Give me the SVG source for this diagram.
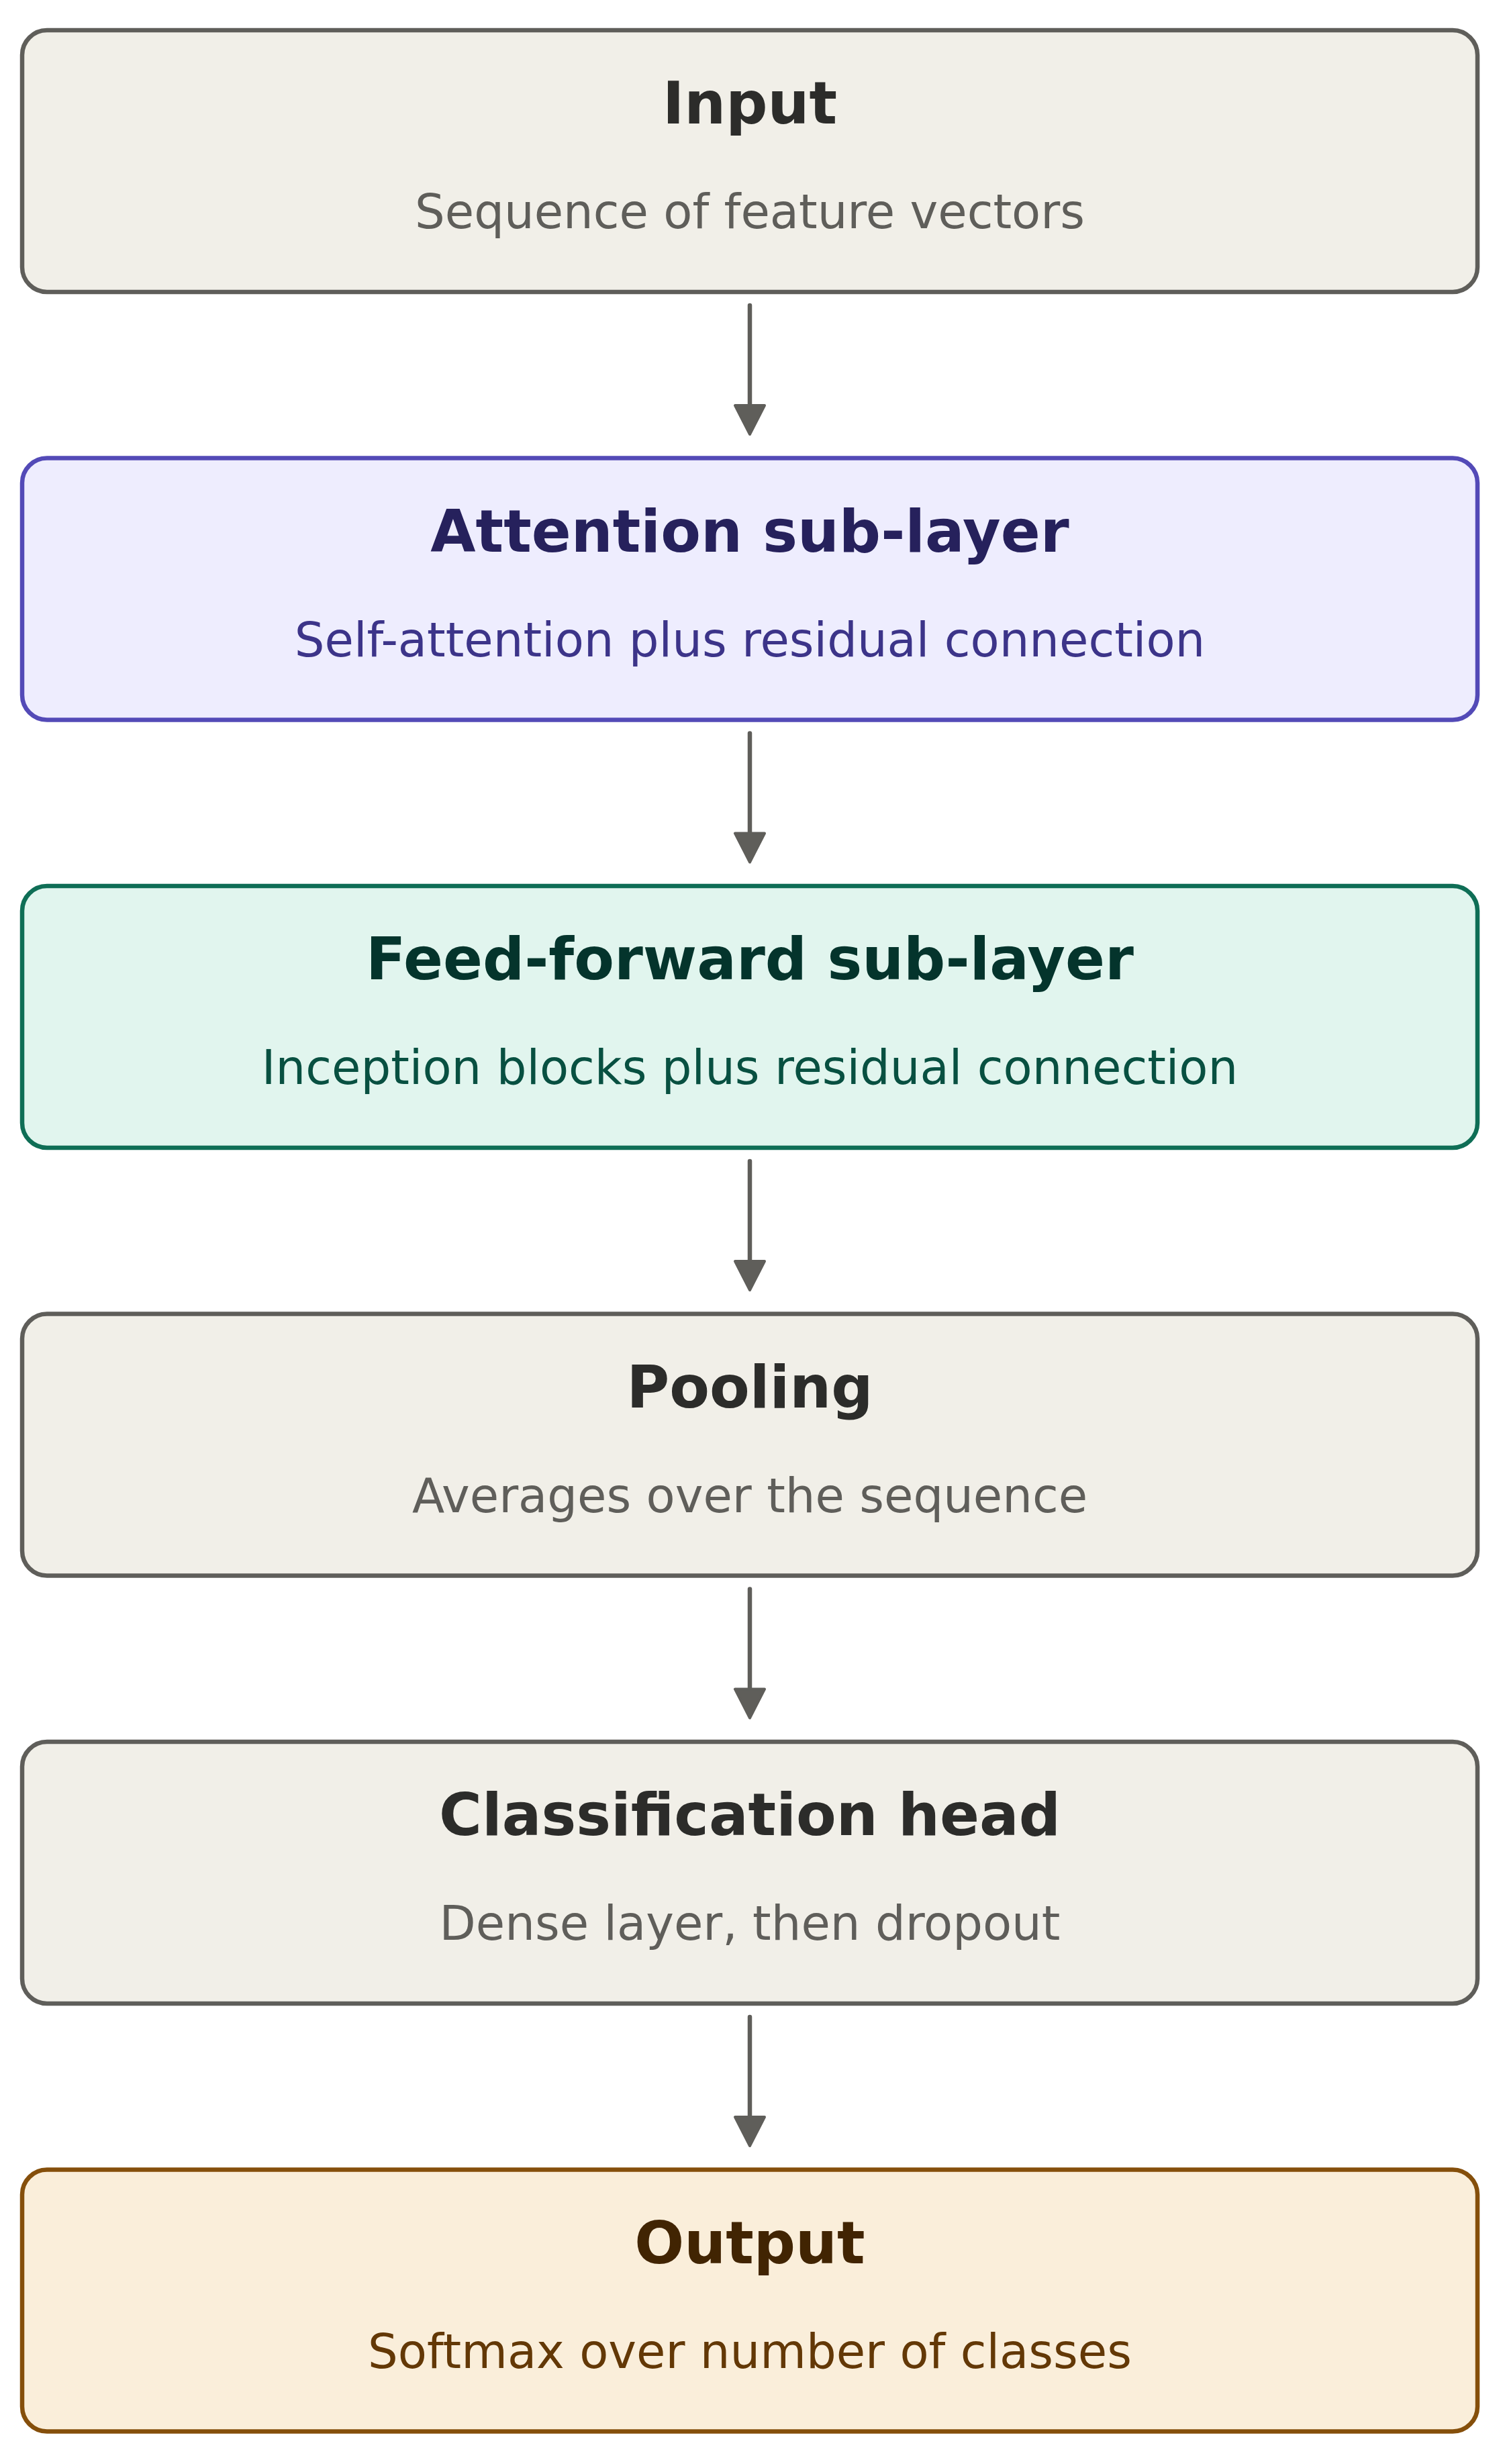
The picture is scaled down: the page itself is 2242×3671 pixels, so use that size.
<svg xmlns="http://www.w3.org/2000/svg" width="2242" height="3671" viewBox="0 0 2242 3671">
<style>
.box{stroke-width:6.5}
.t{font-family:"DejaVu Sans",sans-serif;font-weight:bold;font-size:87px;text-anchor:middle}
.s{font-family:"DejaVu Sans",sans-serif;font-size:70.5px;text-anchor:middle}
.n rect{fill:#F1EFE8;stroke:#5F5E5A}.n .t{fill:#2C2C2A}.n .s{fill:#5F5E5A}
.p rect{fill:#EEEDFE;stroke:#534AB7}.p .t{fill:#26215C}.p .s{fill:#3C3489}
.g rect{fill:#E1F5EE;stroke:#0F6E56}.g .t{fill:#04342C}.g .s{fill:#085041}
.a rect{fill:#FAEEDA;stroke:#854F0B}.a .t{fill:#412402}.a .s{fill:#633806}
.c{stroke:#5F5E5A;stroke-width:6.5;stroke-linecap:round;fill:none}
</style>
<defs>
<marker id="ah" markerUnits="userSpaceOnUse" markerWidth="60" markerHeight="60" viewBox="0 0 60 60" refX="30" refY="4" orient="0">
<path d="M8,4 L52,4 L30,47 Z" fill="#5F5E5A" stroke="#5F5E5A" stroke-width="4" stroke-linejoin="round"/>
</marker>
</defs>
<rect width="2242" height="3671" fill="#FFFFFF"/>
<g id="connectors">
<path class="c" d="M1117,455 V604" marker-end="url(#ah)"/>
<path class="c" d="M1117,1092.5 V1241.5" marker-end="url(#ah)"/>
<path class="c" d="M1117,1730 V1879" marker-end="url(#ah)"/>
<path class="c" d="M1117,2367.5 V2516.5" marker-end="url(#ah)"/>
<path class="c" d="M1117,3005 V3154" marker-end="url(#ah)"/>
</g>
<g id="input" class="n">
<rect class="box" x="33" y="45" width="2168" height="390" rx="37"/>
<text class="t" x="1117" y="184">Input</text>
<text class="s" x="1117" y="340">Sequence of feature vectors</text>
</g>
<g id="attention" class="p">
<rect class="box" x="33" y="682.5" width="2168" height="390" rx="37"/>
<text class="t" x="1117" y="821.5">Attention sub-layer</text>
<text class="s" x="1117" y="977.5">Self-attention plus residual connection</text>
</g>
<g id="feedforward" class="g">
<rect class="box" x="33" y="1320" width="2168" height="390" rx="37"/>
<text class="t" x="1117" y="1459">Feed-forward sub-layer</text>
<text class="s" x="1117" y="1615">Inception blocks plus residual connection</text>
</g>
<g id="pooling" class="n">
<rect class="box" x="33" y="1957.5" width="2168" height="390" rx="37"/>
<text class="t" x="1117" y="2096.5">Pooling</text>
<text class="s" x="1117" y="2252.5">Averages over the sequence</text>
</g>
<g id="head" class="n">
<rect class="box" x="33" y="2595" width="2168" height="390" rx="37"/>
<text class="t" x="1117" y="2734">Classification head</text>
<text class="s" x="1117" y="2890">Dense layer, then dropout</text>
</g>
<g id="output" class="a">
<rect class="box" x="33" y="3232.5" width="2168" height="390" rx="37"/>
<text class="t" x="1117" y="3371.5">Output</text>
<text class="s" x="1117" y="3527.5">Softmax over number of classes</text>
</g>
</svg>
